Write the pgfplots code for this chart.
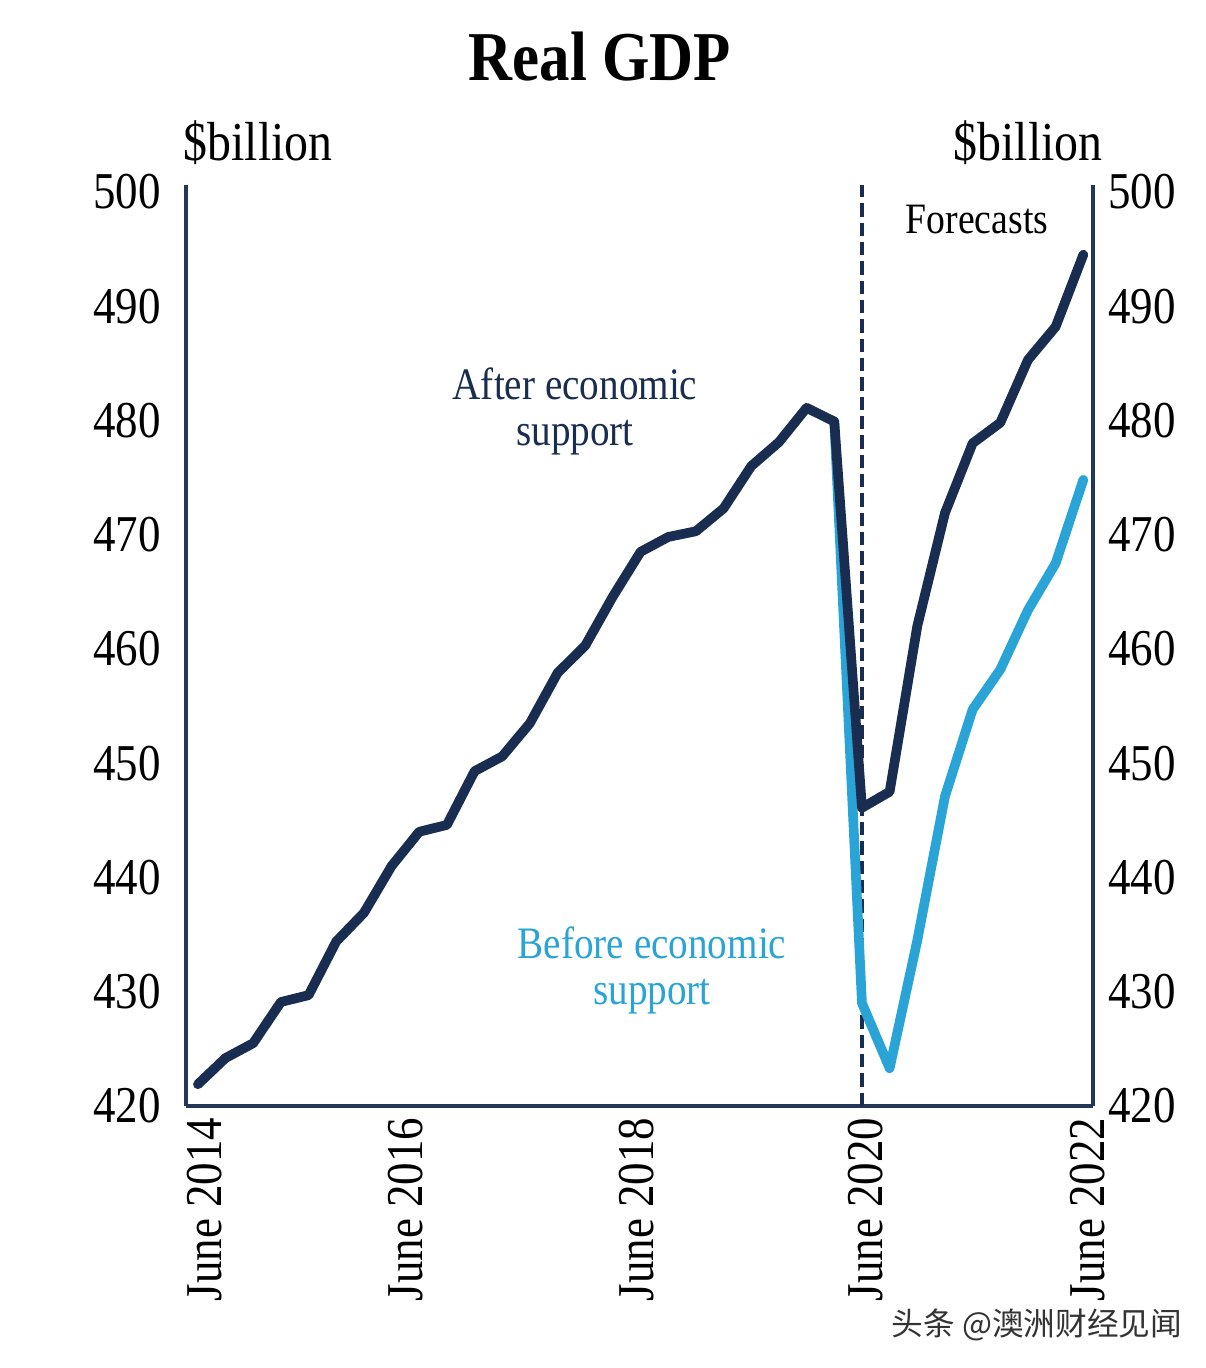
\documentclass[border=0pt]{standalone}
\usepackage{pgfplots}
\pgfplotsset{compat=1.18}
\usepackage{pgfplotstable}
\usepackage{fontspec}
\setmainfont[FakeStretch=0.87]{Liberation Serif}
\newfontfamily\cjk{Noto Sans CJK SC}
\definecolor{navy}{RGB}{25,45,80}
\definecolor{axisnavy}{RGB}{35,55,90}
\definecolor{lightblue}{RGB}{42,164,214}

\pgfplotstableread{
q v
0 421.9
1 424.2
2 425.5
3 429.1
4 429.7
5 434.4
6 436.9
7 441.0
8 444.0
9 444.6
10 449.3
11 450.6
12 453.5
13 457.9
14 460.3
15 464.6
16 468.5
17 469.8
18 470.3
19 472.3
20 476.0
21 478.1
22 481.1
23 479.9
24 446.1
25 447.5
26 462.0
27 471.9
28 478.0
29 479.8
30 485.3
31 488.2
32 494.5
}\aftersupport

\pgfplotstableread{
q v
23 479.9
24 429.0
25 423.3
26 434.5
27 447.1
28 454.7
29 458.2
30 463.4
31 467.5
32 474.8
}\beforesupport

\begin{document}
\begin{tikzpicture}
\path (0,0) rectangle (361.8pt,410.4pt);
\pgfplotsset{
  common/.style={
    at={(55.8pt,78.6pt)}, anchor=south west,
    scale only axis, width=272.1pt, height=276.3pt,
    xmin=-0.43, xmax=32.35, ymin=420, ymax=500.6,
    axis line style={axisnavy, line width=1.2pt, -},
    major tick length=0pt,
    ytick={420,430,...,500},
    /pgf/number format/assume math mode=true,
    tick label style={font=\fontsize{15.5}{17}\selectfont, text=black},
    clip=false,
  }
}
\begin{axis}[common,
  axis x line*=bottom, axis y line*=left,
  xtick={0,7.25,15.6,23.9,31.9},
  xticklabels={June 2014, June 2016, June 2018, June 2020, June 2022},
  xticklabel style={rotate=90, anchor=east, xshift=0pt, yshift=-2pt},
  yticklabel style={xshift=-4pt},
]
\draw[navy, line width=1.2pt, dash pattern=on 4pt off 1.8pt] (axis cs:24,420) -- (axis cs:24,500.6);
\addplot[lightblue, line width=2.9pt, line join=round, line cap=round] table[x=q, y=v] {\beforesupport};
\addplot[navy, line width=2.9pt, line join=round, line cap=round] table[x=q, y=v] {\aftersupport};
\end{axis}
\begin{axis}[common,
  axis x line=none, axis y line*=right,
  yticklabel style={xshift=1pt},
]
\end{axis}
\node[font=\bfseries\fontsize{21}{24}\selectfont] at (180pt,393.3pt) {Real GDP};
\node[font=\fontsize{16.5}{19}\selectfont] at (77.4pt,367.5pt) {\$billion};
\node[font=\fontsize{16.5}{19}\selectfont] at (308.4pt,367.5pt) {\$billion};
\node[font=\fontsize{13.5}{13.8}\selectfont, text=navy, align=center] at (172.5pt,287.1pt) {After economic\\support};
\node[font=\fontsize{13.5}{13.8}\selectfont, text=lightblue, align=center] at (195.6pt,119.4pt) {Before economic\\support};
\node[font=\fontsize{13}{15}\selectfont] at (293.1pt,344.4pt) {Forecasts};
\node[text=black!80, font=\cjk\fontsize{9.5}{12}\selectfont] at (311.1pt,12.9pt) {头条 @澳洲财经见闻};
\end{tikzpicture}
\end{document}
